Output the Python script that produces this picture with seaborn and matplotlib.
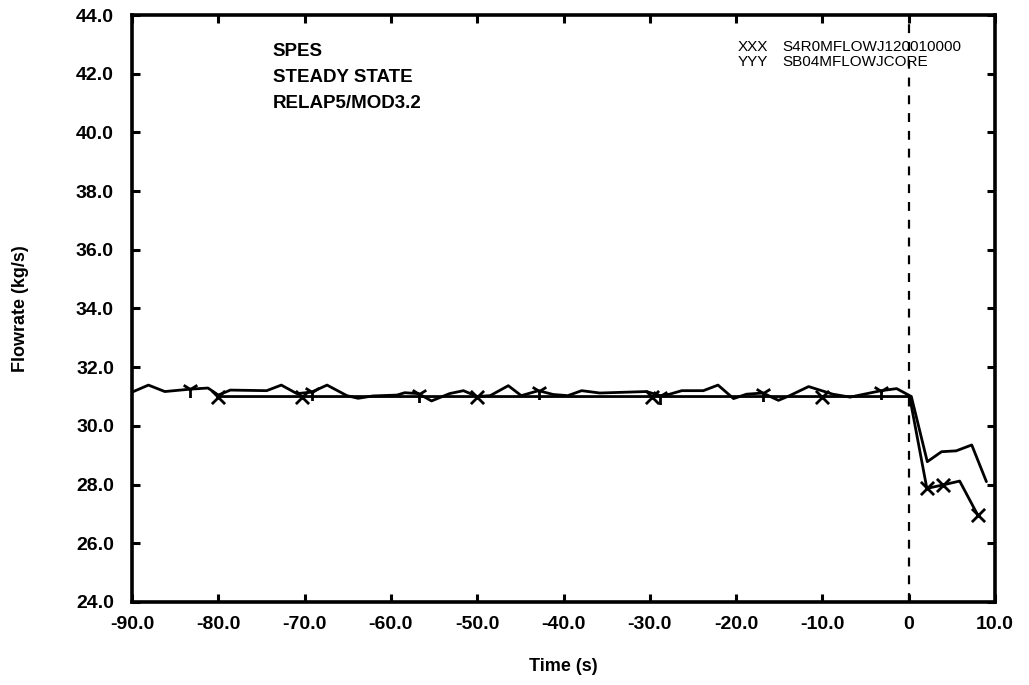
import numpy as np
import pandas as pd
import matplotlib
matplotlib.use("Agg")
import matplotlib.pyplot as plt
import seaborn as sns

# S4R0MFLOWJ120010000 (XXX) - flat then drops after t=0
x_time = [-80.0, -70.0, -60.0, -50.0, -40.0, -30.0, -20.0, -10.0, 0.1, 2.1, 4.0, 5.9, 8.0]
x_flow = [31.0, 31.0, 31.0, 31.0, 31.0, 31.0, 31.0, 31.0, 31.0, 27.87, 27.99, 28.12, 26.96]
x_mark_time = [-80.0, -70.3, -50.0, -29.8, -10.0, 2.1, 4.0, 8.0]
x_mark_flow = [31.0, 31.0, 31.0, 31.0, 31.0, 27.87, 27.99, 26.96]

# SB04MFLOWJCORE (YYY) - wiggly line
y_time = [-90.0, -88.1, -86.2, -83.3, -81.2, -80.0, -78.6, -74.4, -72.7, -70.9,
          -69.2, -67.4, -65.1, -63.8, -62.1, -59.3, -58.4, -56.8, -55.3, -53.2,
          -51.6, -50.0, -48.5, -46.4, -44.9, -42.9, -41.2, -39.5, -37.9, -35.8,
          -30.4, -28.8, -27.7, -26.3, -23.8, -22.1, -20.3, -18.8, -16.9, -15.1,
          -13.8, -11.6, -8.8, -6.8, -3.2, -1.4, 0.3, 2.15, 3.8, 5.5, 7.3, 9.0]
y_flow = [31.15, 31.39, 31.17, 31.25, 31.29, 31.05, 31.22, 31.2, 31.39, 31.1,
          31.15, 31.39, 31.03, 30.94, 31.02, 31.05, 31.13, 31.1, 30.85, 31.1,
          31.2, 31.0, 31.03, 31.37, 31.03, 31.2, 31.07, 31.03, 31.2, 31.12,
          31.17, 31.03, 31.08, 31.2, 31.2, 31.39, 30.93, 31.08, 31.12, 30.87,
          31.03, 31.34, 31.08, 30.98, 31.2, 31.27, 31.0, 28.78, 29.12, 29.15, 29.35, 28.1]
y_mark_time = [-83.3, -69.2, -56.8, -42.9, -28.8, -16.9, -3.2]
y_mark_flow = [31.25, 31.15, 31.1, 31.2, 31.03, 31.12, 31.2]

x_ticks = [-90, -80, -70, -60, -50, -40, -30, -20, -10, 0, 10]
x_tick_labels = ["-90.0", "-80.0", "-70.0", "-60.0", "-50.0", "-40.0",
                 "-30.0", "-20.0", "-10.0", "0", "10.0"]
y_ticks = [24, 26, 28, 30, 32, 34, 36, 38, 40, 42, 44]
y_tick_labels = ["%.1f" % v for v in y_ticks]

title_lines = ["SPES", "STEADY STATE", "RELAP5/MOD3.2"]
legend_lines = [("XXX", "S4R0MFLOWJ120010000"), ("YYY", "SB04MFLOWJCORE")]

sns.set_style("ticks")
plt.rcParams['font.family'] = ['Liberation Sans', 'DejaVu Sans']
plt.rcParams['axes.unicode_minus'] = False
plt.rcParams['text.color'] = 'black'
plt.rcParams['axes.labelcolor'] = 'black'
plt.rcParams['xtick.color'] = 'black'
plt.rcParams['ytick.color'] = 'black'

fig = plt.figure(figsize=(10.29, 6.85), dpi=100)
ax = fig.add_axes([0.1283, 0.1212, 0.8387, 0.8569])

df_x = pd.DataFrame({"t": x_time, "f": x_flow})
df_y = pd.DataFrame({"t": y_time, "f": y_flow})
sns.lineplot(data=df_x, x="t", y="f", ax=ax, color="black", linewidth=2.0, sort=False)
sns.lineplot(data=df_y, x="t", y="f", ax=ax, color="black", linewidth=2.0, sort=False)
sns.scatterplot(x=x_mark_time, y=x_mark_flow, ax=ax, marker="x", s=90,
                color="black", linewidth=2.0, zorder=5)
sns.scatterplot(x=y_mark_time, y=y_mark_flow, ax=ax, marker="1", s=150,
                color="black", linewidth=2.0, zorder=5)

ax.axvline(0, color="black", linestyle=(0, (4, 4)), linewidth=1.6)

ax.set_xlim(-90, 10)
ax.set_ylim(24, 44)
ax.set_xticks(x_ticks)
ax.set_xticklabels(x_tick_labels, fontsize=14, fontweight="bold")
ax.set_yticks(y_ticks)
ax.set_yticklabels(y_tick_labels, fontsize=14, fontweight="bold")
ax.tick_params(direction="in", length=6, width=2.2, top=True, right=True)
ax.tick_params(axis="y", pad=13)
ax.tick_params(axis="x", pad=10)
for s in ax.spines.values():
    s.set_linewidth(2.6)
    s.set_color("black")

ax.set_xlabel("Time (s)", fontsize=13, fontweight="bold", labelpad=18)
ax.set_ylabel("Flowrate (kg/s)", fontsize=13, fontweight="bold", labelpad=34)

for i, line in enumerate(title_lines):
    ax.text(0.163, 0.938 - i * 0.0445, line, transform=ax.transAxes,
            fontsize=13.5, fontweight="bold", va="center", ha="left")

for i, (tag, name) in enumerate(legend_lines):
    ax.text(0.702, 0.946 - i * 0.026, tag, transform=ax.transAxes,
            fontsize=11, va="center", ha="left")
    ax.text(0.754, 0.946 - i * 0.026, name, transform=ax.transAxes,
            fontsize=11, va="center", ha="left")

fig.savefig("out.png", dpi=100)
